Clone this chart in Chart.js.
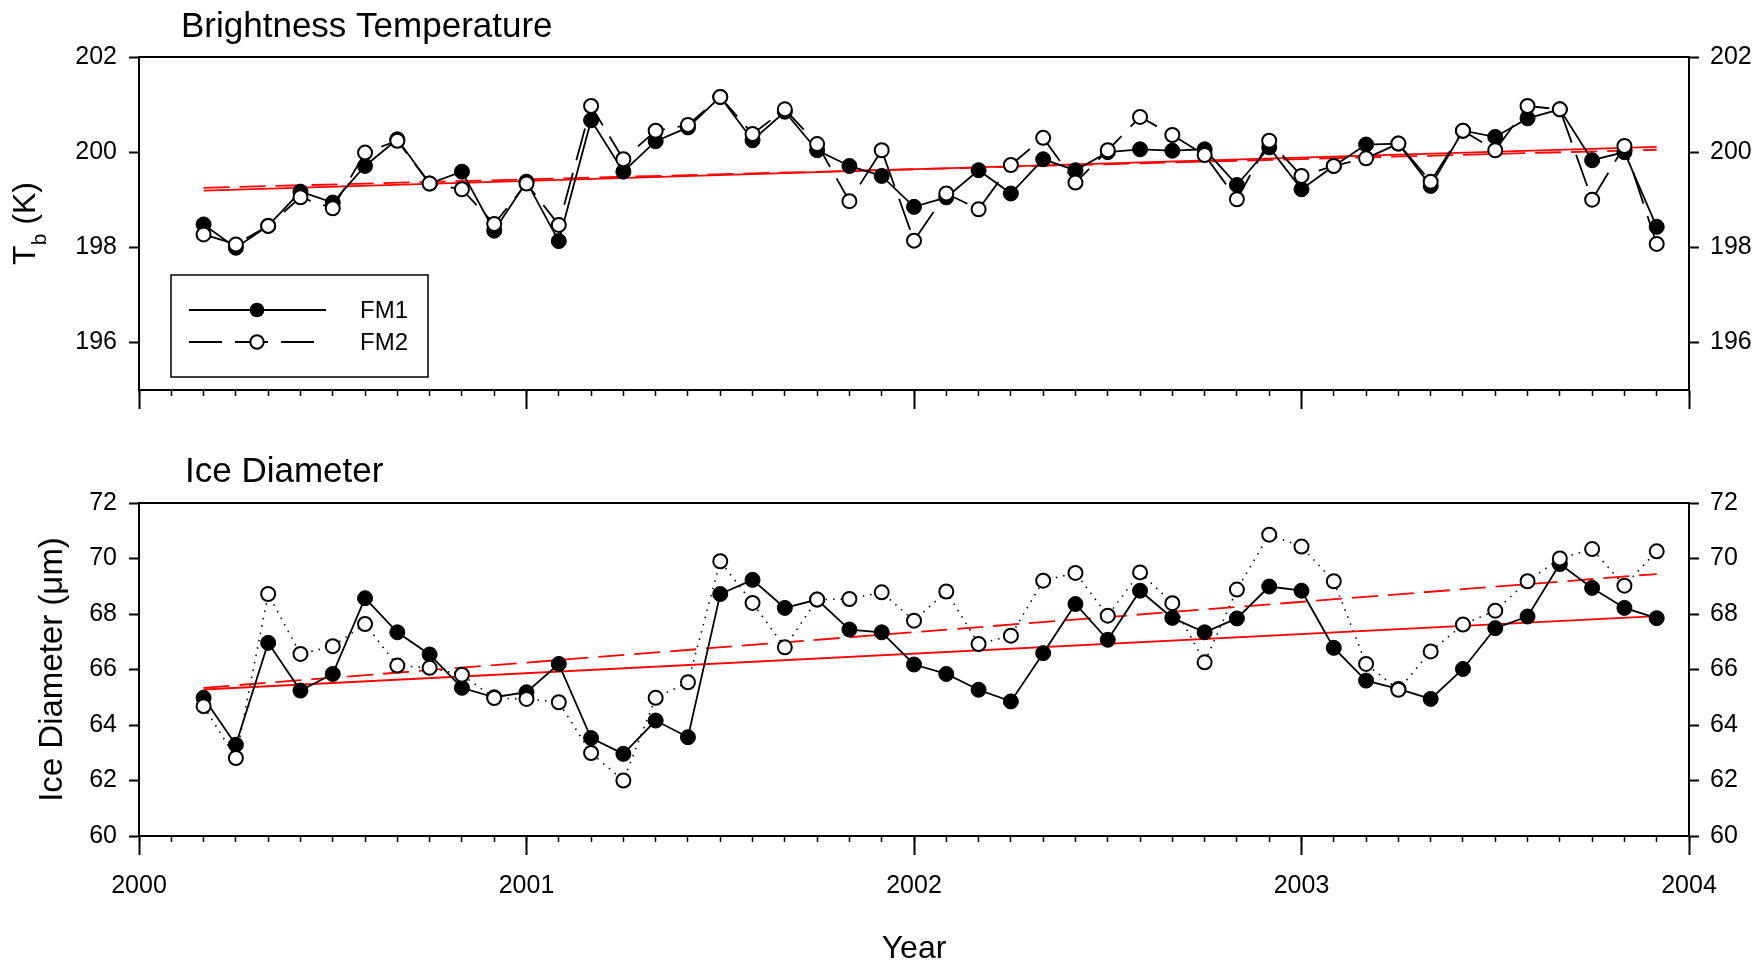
<!DOCTYPE html>
<html>
<head>
<meta charset="utf-8">
<title>Brightness Temperature / Ice Diameter</title>
<script src="https://cdn.jsdelivr.net/npm/chart.js"></script>
<style>
  html, body { margin: 0; padding: 0; background: #fff; }
  body { width: 1756px; height: 962px; overflow: hidden; position: relative; }
  canvas { position: absolute; left: 0; }
  #tbChart { top: 0; }
  #iceChart { top: 440px; }
</style>
</head>
<body>
<canvas id="tbChart" width="1756" height="440"></canvas>
<canvas id="iceChart" width="1756" height="540"></canvas>
<script>
// monthly samples, Mar 2000 - Dec 2003
const months = [
  '2000-03','2000-04','2000-05','2000-06','2000-07','2000-08','2000-09','2000-10','2000-11','2000-12',
  '2001-01','2001-02','2001-03','2001-04','2001-05','2001-06','2001-07','2001-08','2001-09','2001-10','2001-11','2001-12',
  '2002-01','2002-02','2002-03','2002-04','2002-05','2002-06','2002-07','2002-08','2002-09','2002-10','2002-11','2002-12',
  '2003-01','2003-02','2003-03','2003-04','2003-05','2003-06','2003-07','2003-08','2003-09','2003-10','2003-11','2003-12'
];

const tbFM1 = [
  198.48, 197.99, 198.45, 199.17, 198.94, 199.71, 200.27, 199.34, 199.59, 198.35,
  199.38, 198.13, 200.67, 199.59, 200.23, 200.52, 201.16, 200.25, 200.85, 200.04, 199.71, 199.50,
  198.85, 199.05, 199.62, 199.13, 199.85, 199.62, 200.00, 200.06, 200.03, 200.06, 199.31, 200.10,
  199.22, 199.71, 200.16, 200.18, 199.29, 200.45, 200.32, 200.71, 200.90, 199.83, 200.00, 198.43
];
const tbFM2 = [
  198.27, 198.06, 198.45, 199.05, 198.82, 199.99, 200.24, 199.34, 199.22, 198.49,
  199.34, 198.47, 200.97, 199.85, 200.45, 200.57, 201.16, 200.38, 200.90, 200.17, 198.97, 200.04,
  198.14, 199.13, 198.80, 199.73, 200.30, 199.36, 200.04, 200.74, 200.36, 199.94, 199.01, 200.24,
  199.50, 199.71, 199.87, 200.18, 199.38, 200.45, 200.04, 200.97, 200.90, 199.00, 200.13, 198.07
];
const iceFM1 = [
  64.98, 63.29, 66.96, 65.24, 65.84, 68.57, 67.34, 66.54, 65.34, 65.00,
  65.18, 66.20, 63.53, 62.96, 64.16, 63.56, 68.72, 69.23, 68.22, 68.52, 67.44, 67.34,
  66.18, 65.84, 65.27, 64.85, 66.59, 68.36, 67.07, 68.84, 67.86, 67.34, 67.84, 68.99,
  68.84, 66.78, 65.60, 65.30, 64.94, 66.02, 67.49, 67.91, 69.80, 68.94, 68.22, 67.85
];
const iceFM2 = [
  64.68, 62.81, 68.72, 66.56, 66.84, 67.64, 66.14, 66.06, 65.81, 64.97,
  64.94, 64.82, 62.99, 62.00, 64.98, 65.54, 69.90, 68.40, 66.80, 68.52, 68.54, 68.78,
  67.76, 68.81, 66.92, 67.22, 69.20, 69.48, 67.94, 69.50, 68.39, 66.26, 68.88, 70.86,
  70.43, 69.18, 66.20, 65.27, 66.65, 67.62, 68.12, 69.18, 70.00, 70.34, 69.02, 70.26
];

// linear fits (end points)
const trendMonths = ['2000-03', '2003-12'];
const tbTrendFM1 = [199.19, 200.11];
const tbTrendFM2 = [199.25, 200.05];
const iceTrendFM1 = [65.28, 67.92];
const iceTrendFM2 = [65.34, 69.44];

const yearTicks = [2000, 2001, 2002, 2003, 2004];
const tbTicks = [196, 198, 200, 202];
const iceTicks = [60, 62, 64, 66, 68, 70, 72];

Chart.defaults.font.family = '"Liberation Sans", Arial, sans-serif';
Chart.defaults.color = '#000';

const FONT = '"Liberation Sans", Arial, sans-serif';

function toYear(s) {
  const [y, m] = s.split('-').map(Number);
  return y + (m - 1) / 12;
}
function pts(labels, vals) {
  return vals.map((v, i) => ({ x: toYear(labels[i]), y: v }));
}
function monthTicks() {
  const out = [];
  for (let i = 0; i <= 48; i++) out.push({ value: 2000 + i / 12 });
  return out;
}
const setTicks = list => s => { s.ticks = list.map(v => ({ value: v })); };
const fixW = w => s => { s.width = w; };
const fixH = h => s => { s.height = h; };

function buildScales(yMin, yMax, yTicks, bottomH, showYears, yTitle) {
  const border = { display: true, color: '#000', width: 2 };
  const tickFont = { size: 25 };
  const yGrid = { drawOnChartArea: false, tickLength: 10, tickWidth: 2, tickColor: '#000' };
  return {
    x: {
      type: 'linear', position: 'bottom', weight: 1, min: 2000, max: 2004,
      afterBuildTicks: setTicks(yearTicks), afterFit: fixH(bottomH),
      grid: { drawOnChartArea: false, tickLength: 19, tickWidth: 2, tickColor: '#000' },
      border: border,
      ticks: { display: showYears, font: tickFont, padding: 16, maxRotation: 0, autoSkip: false, callback: v => String(v) },
      title: { display: showYears, text: 'Year', font: { size: 32 }, padding: { top: 0, bottom: 12 } }
    },
    xm: {
      type: 'linear', position: 'bottom', weight: 0, min: 2000, max: 2004,
      afterBuildTicks: s => { s.ticks = monthTicks(); }, afterFit: fixH(0),
      grid: { drawOnChartArea: false, tickLength: 6, tickWidth: 1.5, tickColor: '#000' },
      border: { display: false },
      ticks: { display: false, autoSkip: false }
    },
    xt: {
      type: 'linear', position: 'top', min: 2000, max: 2004,
      afterFit: fixH(0),
      grid: { display: false },
      border: border,
      ticks: { display: false }
    },
    y: {
      type: 'linear', position: 'left', min: yMin, max: yMax,
      afterBuildTicks: setTicks(yTicks), afterFit: fixW(139),
      grid: yGrid, border: border,
      ticks: { font: tickFont, padding: 12, callback: v => String(v) },
      title: yTitle
    },
    y2: {
      type: 'linear', position: 'right', min: yMin, max: yMax,
      afterBuildTicks: setTicks(yTicks), afterFit: fixW(67),
      grid: yGrid, border: border,
      ticks: { font: tickFont, padding: 11, callback: v => String(v) }
    }
  };
}

function seriesSets(fm1, fm2, fit1, fit2, fm2Dash) {
  return [
    { label: 'FM2', data: pts(months, fm2), order: 0, borderColor: '#000', borderWidth: fm2Dash[0] > 5 ? 1.8 : 1.6,
      borderDash: fm2Dash, pointRadius: 7, pointBackgroundColor: '#fff', pointBorderColor: '#000', pointBorderWidth: 2 },
    { label: 'FM1', data: pts(months, fm1), order: 1, borderColor: '#000', borderWidth: 1.8,
      pointRadius: 7.5, pointBackgroundColor: '#000', pointBorderColor: '#000', pointBorderWidth: 1 },
    { label: 'FM1 fit', data: pts(trendMonths, fit1), order: 2, borderColor: '#ff0000', borderWidth: 1.8, pointRadius: 0 },
    { label: 'FM2 fit', data: pts(trendMonths, fit2), order: 3, borderColor: '#ff0000', borderWidth: 1.8,
      borderDash: [26, 10], pointRadius: 0 }
  ];
}

const commonOpts = {
  responsive: false,
  animation: false,
  events: [],
  elements: { line: { tension: 0 } },
  plugins: { legend: { display: false }, tooltip: { enabled: false } }
};

// titles, T_b label and legend box of the upper panel
const tbDecor = {
  id: 'tbDecor',
  afterDraw(chart) {
    const ctx = chart.ctx;
    const area = chart.chartArea;
    ctx.save();
    ctx.fillStyle = '#000';
    ctx.textBaseline = 'alphabetic';
    ctx.font = '35px ' + FONT;
    ctx.fillText('Brightness Temperature', 181, 37);

    // rotated "T_b (K)"
    ctx.save();
    ctx.translate(35, (area.top + area.bottom) / 2);
    ctx.rotate(-Math.PI / 2);
    ctx.font = '32px ' + FONT;
    const wT = ctx.measureText('T').width;
    const wK = ctx.measureText(' (K)').width;
    ctx.font = '21px ' + FONT;
    const wb = ctx.measureText('b').width;
    let lx = -(wT + wb + wK) / 2;
    ctx.font = '32px ' + FONT;
    ctx.fillText('T', lx, 0);
    ctx.font = '21px ' + FONT;
    ctx.fillText('b', lx + wT, 11);
    ctx.font = '32px ' + FONT;
    ctx.fillText(' (K)', lx + wT + wb, 0);
    ctx.restore();

    // legend
    ctx.fillStyle = '#fff';
    ctx.fillRect(171, 275, 257, 102);
    ctx.strokeStyle = '#000';
    ctx.lineWidth = 1.5;
    ctx.strokeRect(171, 275, 257, 102);

    ctx.lineWidth = 1.8;
    ctx.beginPath();
    ctx.moveTo(189, 310); ctx.lineTo(326, 310);
    ctx.stroke();
    ctx.fillStyle = '#000';
    ctx.beginPath();
    ctx.arc(257, 310, 7.3, 0, Math.PI * 2);
    ctx.fill();

    ctx.setLineDash([33, 13]);
    ctx.beginPath();
    ctx.moveTo(189, 342); ctx.lineTo(314, 342);
    ctx.stroke();
    ctx.setLineDash([]);
    ctx.fillStyle = '#fff';
    ctx.lineWidth = 2;
    ctx.beginPath();
    ctx.arc(257, 342, 6.7, 0, Math.PI * 2);
    ctx.fill();
    ctx.stroke();

    ctx.fillStyle = '#000';
    ctx.font = '24px ' + FONT;
    ctx.textBaseline = 'middle';
    ctx.fillText('FM1', 360, 311);
    ctx.fillText('FM2', 360, 343);
    ctx.restore();
  }
};

const iceDecor = {
  id: 'iceDecor',
  afterDraw(chart) {
    const ctx = chart.ctx;
    ctx.save();
    ctx.fillStyle = '#000';
    ctx.textBaseline = 'alphabetic';
    ctx.font = '35px ' + FONT;
    ctx.fillText('Ice Diameter', 185, 42);
    ctx.restore();
  }
};

new Chart(document.getElementById('tbChart'), {
  type: 'line',
  data: { datasets: seriesSets(tbFM1, tbFM2, tbTrendFM1, tbTrendFM2, [33, 13]) },
  options: Object.assign({}, commonOpts, {
    layout: { padding: { top: 57, left: 0, right: 0, bottom: 0 } },
    scales: buildScales(195, 202, tbTicks, 50, false, { display: false })
  }),
  plugins: [tbDecor]
});

new Chart(document.getElementById('iceChart'), {
  type: 'line',
  data: { datasets: seriesSets(iceFM1, iceFM2, iceTrendFM1, iceTrendFM2, [1.5, 6]) },
  options: Object.assign({}, commonOpts, {
    layout: { padding: { top: 63, left: 0, right: 0, bottom: 0 } },
    scales: buildScales(60, 72, iceTicks, 144, true,
      { display: true, text: 'Ice Diameter (\u03bcm)', font: { size: 33 }, padding: { top: 33, bottom: 0 } })
  }),
  plugins: [iceDecor]
});
</script>
</body>
</html>
